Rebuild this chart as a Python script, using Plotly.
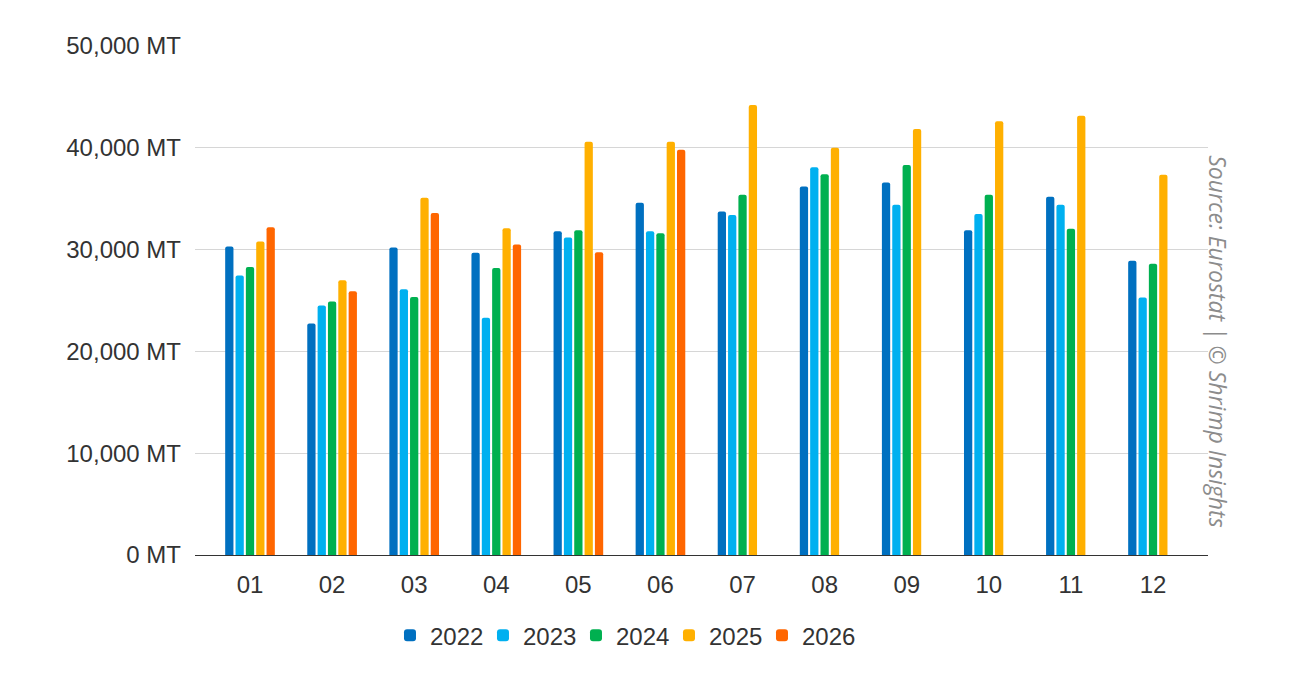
import plotly.graph_objects as go

# Monthly volumes (MT)
months = ["01", "02", "03", "04", "05", "06", "07", "08", "09", "10", "11", "12"]

y2022 = [30300, 22750, 30200, 29700, 31800, 34600, 33750, 36200, 36600, 31900, 35200, 28900]
y2023 = [27450, 24500, 26100, 23300, 31200, 31800, 33400, 38100, 34400, 33500, 34400, 25300]
y2024 = [28300, 24900, 25350, 28200, 31900, 31600, 35400, 37400, 38300, 35400, 32050, 28600]
y2025 = [30800, 27000, 35100, 32100, 40600, 40600, 44200, 40000, 41850, 42600, 43150, 37350]
y2026 = [32200, 25900, 33600, 30500, 29750, 39800, None, None, None, None, None, None]

years = ["2022", "2023", "2024", "2025", "2026"]
colors = ["#0070C0", "#00B0F0", "#00B050", "#FFB000", "#FF6600"]
series = [y2022, y2023, y2024, y2025, y2026]

y_ticks = [0, 10000, 20000, 30000, 40000, 50000]
y_tick_labels = ["0 MT", "10,000 MT", "20,000 MT", "30,000 MT", "40,000 MT", "50,000 MT"]

fig = go.Figure()
for name, vals, col in zip(years, series, colors):
    fig.add_trace(go.Bar(x=months, y=vals, name=name, marker_color=col,
                         marker_line_width=0))

fig.update_layout(
    width=1293, height=676,
    paper_bgcolor="white", plot_bgcolor="white",
    margin=dict(l=187, r=93, t=38, b=129),
    barmode="group", bargap=0.37, bargroupgap=0.2, barcornerradius=2,
    font=dict(family="Liberation Sans, Arial, sans-serif", size=24, color="#333333"),
    showlegend=True,
    legend=dict(orientation="h", x=0.422, xanchor="center", y=-0.114, yanchor="top",
                font=dict(size=24, color="#333333"), itemwidth=30,
                entrywidth=48, entrywidthmode="pixels",
                traceorder="normal"),
    annotations=[dict(
        text="Source: Eurostat | © Shrimp Insights",
        xref="paper", yref="paper", x=1.0, y=0.42, xshift=-8,
        xanchor="left", yanchor="middle", textangle=90, showarrow=False,
        font=dict(family="Open Sans, Liberation Sans, sans-serif", size=23,
                  color="#8c8c8c", style="italic"),
    )],
)

fig.update_xaxes(type="category", range=[-0.67, 11.67], showgrid=False,
                 showline=True, linecolor="#333333", linewidth=1,
                 ticks="", ticklabelstandoff=8, tickfont=dict(size=24, color="#333333"))
fig.update_yaxes(range=[0, 50000], tickvals=y_ticks, ticktext=y_tick_labels,
                 showgrid=True, gridcolor="#d6d6d6", gridwidth=1,
                 zeroline=False, showline=False, ticks="", ticklabelstandoff=13,
                 tickfont=dict(size=24, color="#333333"))

fig.write_html("out.html")
